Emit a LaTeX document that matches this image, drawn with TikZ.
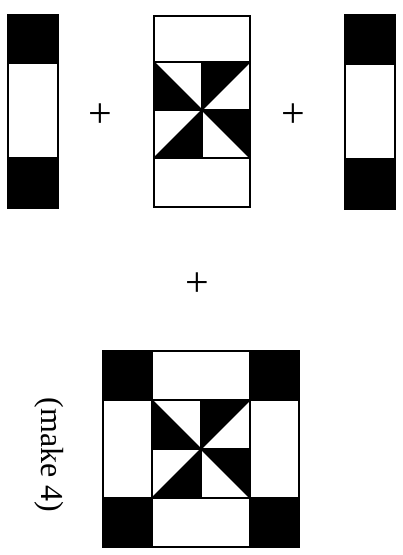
\documentclass[tikz,border=0pt]{standalone}
\usepackage{fontspec}
\setmainfont{Liberation Serif}
\usetikzlibrary{positioning}

% pinwheel of four half-square triangles: centre x, centre y, half size
\newcommand{\pinwheel}[3]{%
  \begin{scope}[shift={(#1,#2)}]
    \fill (-#3,-#3) -- (-#3,0) -- (0,0) -- cycle;
    \fill (0,-#3) -- (#3,-#3) -- (0,0) -- cycle;
    \fill (0,0) -- (0,#3) -- (-#3,#3) -- cycle;
    \fill (0,0) -- (#3,0) -- (#3,#3) -- cycle;
    \draw (-#3,-#3) rectangle (#3,#3);
    \draw (-#3,0) -- (#3,0) (0,-#3) -- (0,#3);
    \draw (-#3,-#3) -- (#3,#3) (-#3,#3) -- (#3,-#3);
  \end{scope}}

\begin{document}
\begin{tikzpicture}[x=1pt, y=-1pt, line width=1.4pt,
    dark/.style={fill=black, draw=black},
    light/.style={fill=white, draw=black},
    plus/.style={font=\fontsize{42}{44}\selectfont},
    every node/.style={font=\fontsize{32}{34}\selectfont, inner sep=0pt}]
    \useasboundingbox (0,0) rectangle (403,555);

    % Left strip
    \draw[dark] (8,15) rectangle (58,63);
    \draw[light] (8,63) rectangle (58,158);
    \draw[dark] (8,158) rectangle (58,208);

    % Centre strip with pinwheel
    \draw[light] (154,16) rectangle (250,62);
    \pinwheel{202}{110}{48}
    \draw[light] (154,158) rectangle (250,207);

    % Right strip
    \draw[dark] (345,15) rectangle (395,64);
    \draw[light] (345,64) rectangle (395,159);
    \draw[dark] (345,159) rectangle (395,209);

    % Plus signs
    \node[plus] (plusL) at (100,116) {+};
    \node[plus] (plusR) at (293,116) {+};
    \node[plus] (plusD) at (197,285) {+};

    % Finished block
    \draw[dark] (103,351) rectangle (152,400);
    \draw[light] (152,351) rectangle (250,400);
    \draw[dark] (250,351) rectangle (299,400);
    \draw[light] (103,400) rectangle (152,498);
    \pinwheel{201}{449}{49}
    \draw[light] (250,400) rectangle (299,498);
    \draw[dark] (103,498) rectangle (152,547);
    \draw[light] (152,498) rectangle (250,547);
    \draw[dark] (250,498) rectangle (299,547);

    % Label
    \node[rotate=-90] (make) at (49,455) {(make 4)};
\end{tikzpicture}
\end{document}
